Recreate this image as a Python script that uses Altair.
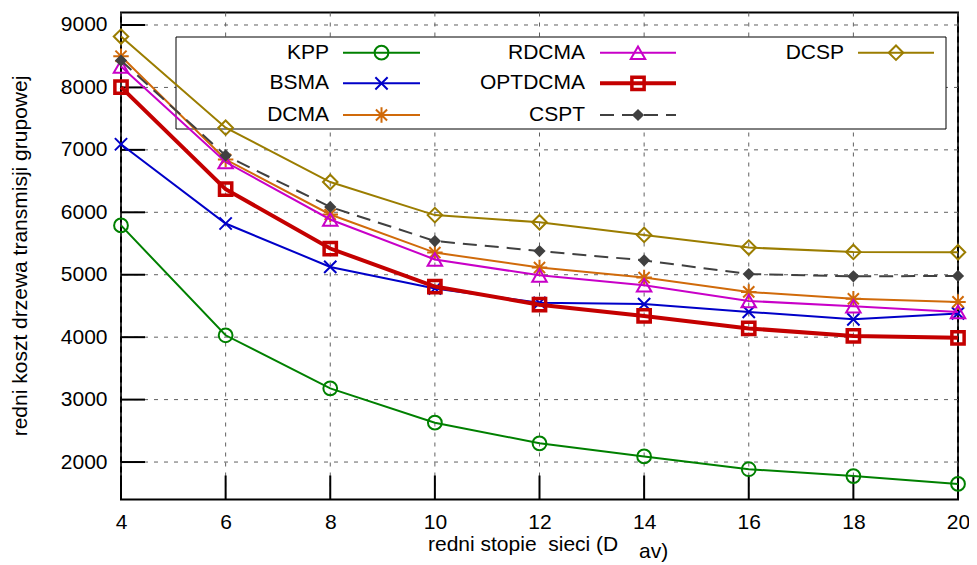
import altair as alt
import pandas as pd

# ---- data ----
x_vals = [4, 6, 8, 10, 12, 14, 16, 18, 20]
kpp = [5790, 4030, 3180, 2630, 2300, 2090, 1885, 1775, 1650]
bsma = [7090, 5820, 5125, 4780, 4550, 4530, 4405, 4285, 4380]
dcma = [8500, 6845, 5965, 5355, 5115, 4955, 4725, 4615, 4565]
rdcma = [8335, 6805, 5885, 5245, 4990, 4830, 4580, 4495, 4405]
optdcma = [8005, 6370, 5420, 4810, 4520, 4340, 4140, 4020, 3990]
cspt = [8430, 6910, 6085, 5540, 5380, 5230, 5010, 4975, 4980]
dcsp = [8815, 7355, 6485, 5955, 5840, 5637, 5435, 5365, 5360]

x_ticks = [4, 6, 8, 10, 12, 14, 16, 18, 20]
y_ticks = [2000, 3000, 4000, 5000, 6000, 7000, 8000, 9000]

y_title = "redni koszt drzewa transmisji grupowej"
x_title_main = "redni stopie\u00a0 sieci (D"
x_title_sub = "av)"

FONT = "Liberation Sans"
FS = 21
W, H = 837, 487

xs = alt.Scale(domain=[4, 20], nice=False, zero=False)
ys = alt.Scale(domain=[1400, 9200], nice=False, zero=False)

one = pd.DataFrame({"a": [0]})

y_axis = alt.Axis(
    values=y_ticks, format="d", title=None, ticks=False, domain=False, grid=False,
    labelFont=FONT, labelFontSize=FS, labelColor="black", labelPadding=14,
    labelFlush=False, labelOverlap=False)
x_axis = alt.Axis(
    values=x_ticks, format="d", title=None, ticks=False, domain=False, grid=False,
    labelFont=FONT, labelFontSize=FS, labelColor="black", labelPadding=12,
    labelFlush=False, labelOverlap=False)

# ---- grid (carries the axes) ----
grid_x = alt.Chart(pd.DataFrame({"v": x_ticks})).mark_rule(
    color="#606060", strokeWidth=1, strokeDash=[4, 6]
).encode(x=alt.X("v:Q", scale=xs, axis=x_axis))
grid_y = alt.Chart(pd.DataFrame({"v": y_ticks})).mark_rule(
    color="#606060", strokeWidth=1, strokeDash=[4, 6]
).encode(y=alt.Y("v:Q", scale=ys, axis=y_axis))

# ---- inward ticks ----
tick_y = alt.Chart(pd.DataFrame({"v": y_ticks})).mark_rule(
    color="black", strokeWidth=2
).encode(
    y=alt.Y("v:Q", scale=ys, axis=y_axis),
    x=alt.value(0), x2=alt.value(24),
)
tick_x = alt.Chart(pd.DataFrame({"v": x_ticks})).mark_rule(
    color="black", strokeWidth=2
).encode(
    x=alt.X("v:Q", scale=xs, axis=x_axis),
    y=alt.value(H), y2=alt.value(H - 24),
)

# ---- legend box (under the data, over the grid) ----
legend_box = alt.Chart(one).mark_rect(
    fill="white", stroke="black", strokeWidth=1
).encode(x=alt.value(55), x2=alt.value(825), y=alt.value(24.5), y2=alt.value(116.5))

XPATH = "M-1,-1L1,1M-1,1L1,-1"
STAR = "M-1,0L1,0M0,-1L0,1M-0.72,-0.72L0.72,0.72M-0.72,0.72L0.72,-0.72"

series = [
    # name, values, color, shape, size, line width, dash, filled, marker stroke, col, row
    ("KPP", kpp, "#008000", "circle", 190, 2, None, False, 2, 0, 0),
    ("BSMA", bsma, "#0000c8", XPATH, 150, 2, None, False, 2, 0, 1),
    ("DCMA", dcma, "#d06a0a", STAR, 240, 2, None, False, 2, 0, 2),
    ("RDCMA", rdcma, "#c800c8", "triangle-up", 210, 2, None, False, 2, 1, 0),
    ("OPTDCMA", optdcma, "#c40000", "square", 150, 4, None, False, 3.5, 1, 1),
    ("CSPT", cspt, "#404040", "diamond", 150, 2, [14, 8], True, 1, 1, 2),
    ("DCSP", dcsp, "#9b7d00", "diamond", 210, 2, None, False, 2, 2, 0),
]

text_right = [208, 464, 723]
line_x1 = [222, 479, 737]
line_x2 = [299, 555, 813]
marker_x = [260.5, 517, 775]
row_y = [40.2, 70.8, 102.5]

data_layers = []
legend_layers = []
for name, vals, color, shape, size, lw, dash, filled, msw, col, row in series:
    df = pd.DataFrame({"x": x_vals, "y": vals})
    enc = dict(x=alt.X("x:Q", scale=xs, axis=x_axis), y=alt.Y("y:Q", scale=ys, axis=y_axis))
    lkw = dict(color=color, strokeWidth=lw)
    if dash:
        lkw["strokeDash"] = dash
    data_layers.append(alt.Chart(df).mark_line(**lkw).encode(**enc))
    pkw = dict(shape=shape, size=size, color=color, strokeWidth=msw, opacity=1, filled=filled)
    data_layers.append(alt.Chart(df).mark_point(**pkw).encode(**enc))

    ly = row_y[row]
    legend_layers.append(alt.Chart(one).mark_text(
        text=name, font=FONT, fontSize=FS, color="black", align="right", baseline="middle"
    ).encode(x=alt.value(text_right[col]), y=alt.value(ly)))
    legend_layers.append(alt.Chart(one).mark_rule(**lkw).encode(
        x=alt.value(line_x1[col]), x2=alt.value(line_x2[col]), y=alt.value(ly)))
    legend_layers.append(alt.Chart(one).mark_point(**pkw).encode(
        x=alt.value(marker_x[col]), y=alt.value(ly)))

# ---- axis titles ----
ytitle = alt.Chart(one).mark_text(
    text=y_title, font=FONT, fontSize=FS, color="black", angle=270,
    align="center", baseline="middle"
).encode(x=alt.value(-100), y=alt.value(H / 2))
xtitle = alt.Chart(one).mark_text(
    text=x_title_main, font=FONT, fontSize=FS, color="black", align="left", baseline="middle"
).encode(x=alt.value(307), y=alt.value(532))
xsub = alt.Chart(one).mark_text(
    text=x_title_sub, font=FONT, fontSize=FS, color="black", align="left", baseline="middle"
).encode(x=alt.value(518), y=alt.value(539))

chart = alt.layer(
    grid_x, grid_y, legend_box, tick_y, tick_x, *data_layers, *legend_layers, ytitle, xtitle, xsub
).properties(
    width=W, height=H,
    autosize=alt.AutoSizeParams(type="none"),
    padding={"left": 113, "top": 4.5, "right": 11, "bottom": 68},
).configure_view(stroke="black", strokeWidth=2)

chart.save("out.html", embed_options={"renderer": "svg", "actions": False})
